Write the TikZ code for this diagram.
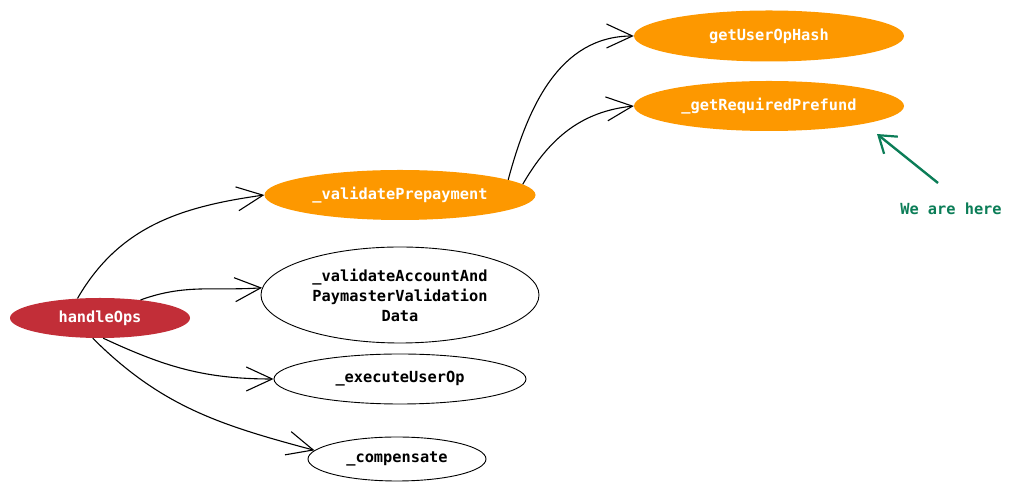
\documentclass[tikz,border=0pt]{standalone}
\usepackage{fontspec}
\setmonofont{DejaVu Sans Mono}
\usetikzlibrary{shapes.geometric,arrows.meta}
\definecolor{hred}{HTML}{C22E38}
\definecolor{horange}{HTML}{FD9800}
\definecolor{hgreen}{HTML}{0B7D57}
\begin{document}
\begin{tikzpicture}[x=1pt,y=1pt,
  every node/.style={font=\ttfamily\bfseries\fontsize{15.3}{20}\selectfont},
  fnode/.style={ellipse,inner sep=0pt,text=white},
  rednode/.style={fnode,fill=hred},
  orgnode/.style={fnode,fill=horange},
  wnode/.style={ellipse,inner sep=0pt,draw=black,line width=0.9pt,align=center},
  conn/.style={draw=black,line width=1.1pt,-{Straight Barb[length=26pt,width=24pt,line width=1.1pt]}},
  marker/.style={draw=hgreen,line width=2.4pt,-{Straight Barb[length=16pt,width=22pt,line width=2.2pt]}}
]
\useasboundingbox (0,0) rectangle (1013,492);
\node[rednode,minimum width=180,minimum height=40] (hand) at (100,174) {handleOps};
\node[orgnode,minimum width=271,minimum height=50] (vp) at (400,297) {\_validatePrepayment};
\node[wnode,minimum width=278,minimum height=96] (vad) at (400,197) {\_validateAccountAnd\\PaymasterValidation\\Data};
\node[wnode,minimum width=252,minimum height=50] (exe) at (400,113) {\_executeUserOp};
\node[wnode,minimum width=178,minimum height=44] (comp) at (397,33) {\_compensate};
\node[orgnode,minimum width=270,minimum height=51] (guh) at (769,456) {getUserOpHash};
\node[orgnode,minimum width=270,minimum height=50] (grp) at (769,386) {\_getRequiredPrefund};
\node[text=hgreen] (here) at (951,283) {We are here};
\coordinate (hstart) at (938,309);
\coordinate (htip) at (877,358);

\draw[conn] (hand.139) to[out=60,in=188] (vp.west);
\draw[conn] (hand.24) to[out=20,in=184] (vad.177);
\draw[conn] (hand.-81) to[out=-25,in=180] (exe.west);
\draw[conn] (hand.250) to[out=-45,in=165] (comp.174);
\draw[conn] (vp.8) to[out=75,in=180] (guh.west);
\draw[conn] (vp.5) to[out=60,in=186] (grp.west);
\draw[marker] (hstart) -- (htip);
\end{tikzpicture}
\end{document}
